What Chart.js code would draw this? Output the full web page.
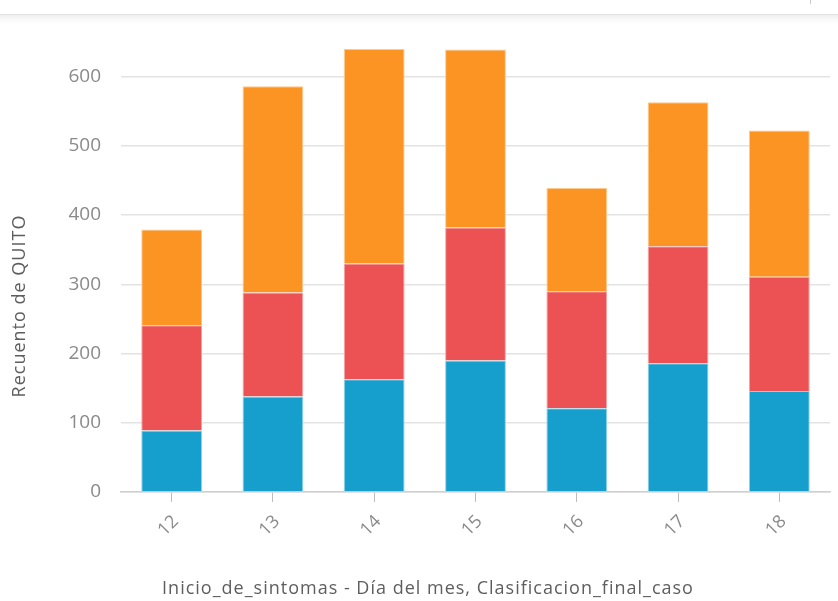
<!DOCTYPE html>
<html>
<head>
<meta charset="utf-8">
<script src="https://cdn.jsdelivr.net/npm/chart.js@4"></script>
<style>
  html, body { margin: 0; padding: 0; background: #fff; }
  #wrap { position: relative; width: 838px; height: 601px; overflow: hidden; }
  #hdr { position: absolute; left: -10px; top: 0; width: 860px; height: 14px; background: #fff;
         border-bottom: 1px solid #e2e2e2; box-shadow: 0 2px 8px rgba(0,0,0,0.10); z-index: 2; }
  #mark { position: absolute; left: 810px; top: 0; width: 1px; height: 4px; background: #ccc; z-index: 3; }
  canvas { position: absolute; left: 0; top: 0; }
</style>
</head>
<body>
<div id="wrap">
  <div id="hdr"></div>
  <div id="mark"></div>
  <canvas id="c" width="838" height="601"></canvas>
</div>
<script>
const categories = ["12", "13", "14", "15", "16", "17", "18"];
const seriesBlue   = [89, 138, 163, 190, 121, 186, 146];
const seriesRed    = [152, 150, 167, 192, 169, 169, 165];
const seriesOrange = [138, 298, 310, 257, 149, 208, 211];
const yTickValues  = [0, 100, 200, 300, 400, 500, 600];
const yTitle = "Recuento de QUITO";
const xTitle = "Inicio_de_sintomas - Día del mes, Clasificacion_final_caso";

const FONT = "'Open Sans', sans-serif";
const GREY = "#8a8a8a";
const TITLE_GREY = "#5e5e5e";

const titlePlugin = {
  id: "titles",
  afterDraw(chart) {
    const ctx = chart.ctx;
    ctx.save();
    ctx.fillStyle = TITLE_GREY;
    ctx.textAlign = "center";
    ctx.textBaseline = "middle";
    ctx.letterSpacing = "1px";
    ctx.font = "18px " + FONT;
    ctx.fillText(xTitle, 428, 589);
    ctx.translate(20, 306);
    ctx.rotate(-Math.PI / 2);
    ctx.fillText(yTitle, 0, 0);
    ctx.restore();
  }
};

new Chart(document.getElementById("c"), {
  type: "bar",
  data: {
    labels: categories,
    datasets: [
      { label: "a", data: seriesBlue,   backgroundColor: "#169fcd", borderColor: "#8fd0ea", borderWidth: 1 },
      { label: "b", data: seriesRed,    backgroundColor: "#ec5153", borderColor: "#f5a3a4", borderWidth: 1 },
      { label: "c", data: seriesOrange, backgroundColor: "#fb9422", borderColor: "#fdc98f", borderWidth: 1 }
    ]
  },
  plugins: [titlePlugin],
  options: {
    responsive: false,
    animation: false,
    layout: { padding: { top: 42, right: 8, bottom: 0, left: 0 } },
    plugins: { legend: { display: false }, tooltip: { enabled: false } },
    datasets: { bar: { categoryPercentage: 1.0, barPercentage: 0.6 } },
    scales: {
      x: {
        stacked: true,
        border: { display: true, color: "#cfcfcf", width: 1.5 },
        grid: { offset: false, drawOnChartArea: false, drawTicks: true, tickLength: 10, color: "#bdbdbd", lineWidth: 1 },
        ticks: { color: GREY, font: { family: FONT, size: 18 }, minRotation: 45, maxRotation: 45, padding: 9, labelOffset: 4 },
        afterFit: (s) => { s.height = 109; }
      },
      y: {
        stacked: true,
        min: 0,
        max: 650,
        border: { display: false },
        grid: { color: "#e3e3e3", lineWidth: 1.5, drawTicks: false },
        ticks: { color: GREY, font: { family: FONT, size: 19 }, padding: 20, stepSize: 100 },
        afterBuildTicks: (s) => { s.ticks = yTickValues.map(v => ({ value: v })); },
        afterFit: (s) => { s.width = 121; }
      }
    }
  }
});
</script>
</body>
</html>
